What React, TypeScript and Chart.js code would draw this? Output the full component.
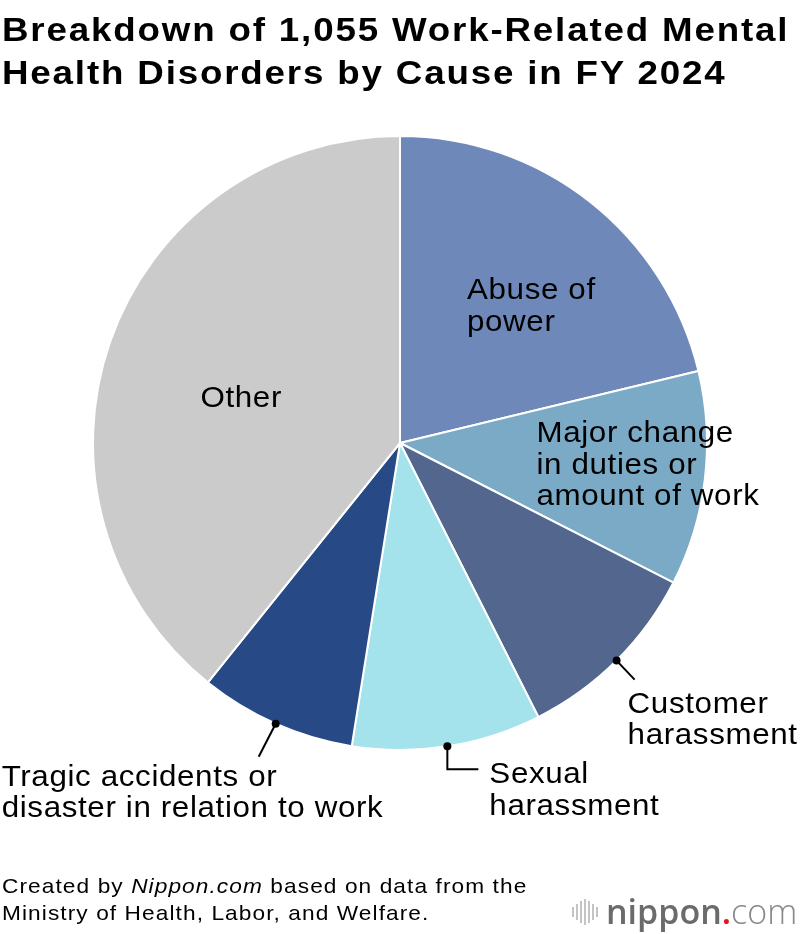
import { useEffect, useRef } from "react";
import { Chart, PieController, ArcElement } from "chart.js";

Chart.register(PieController, ArcElement);

// FY 2024, recognised work-related mental disorder cases by cause (total 1,055)
const causes = [
  "Abuse of power",
  "Major change in duties or amount of work",
  "Customer harassment",
  "Sexual harassment",
  "Tragic accidents or disaster in relation to work",
  "Other",
];
const cases = [224, 119, 106, 105, 87, 414];
const labelLines = [
  ["Abuse of", "power"],
  ["Major change", "in duties or", "amount of work"],
  ["Customer", "harassment"],
  ["Sexual", "harassment"],
  ["Tragic accidents or", "disaster in relation to work"],
  ["Other"],
];

const sliceColors = ["#6e88b9", "#7aaac6", "#52668e", "#a4e2ec", "#274a86", "#cbcbcb"];

// how each label sits next to its slice (offsets from the slice anchor)
type Place =
  | { kind: "inside"; dx: number; dy: number; align: CanvasTextAlign }
  | { kind: "leader"; path: [number, number][]; tx: number; ty: number };

const placements: Place[] = [
  { kind: "inside", dx: -28, dy: -23, align: "left" },
  { kind: "inside", dx: -16, dy: -19, align: "left" },
  { kind: "leader", path: [[18, 19]], tx: 11, ty: 52 },
  { kind: "leader", path: [[0, 23], [31, 23]], tx: 42, ty: 37 },
  { kind: "leader", path: [[-17, 33]], tx: -274, ty: 62 },
  { kind: "inside", dx: -14, dy: 15, align: "center" },
];

const LINE_H = 31.5;
const WIDEN = 1.045;

const sliceLabels = {
  id: "sliceLabels",
  afterDatasetsDraw(chart: Chart) {
    const ctx = chart.ctx;
    const meta = chart.getDatasetMeta(0);
    const text = (s: string, tx: number, ty: number) => {
      ctx.save();
      ctx.translate(tx, ty);
      ctx.scale(WIDEN, 1);
      ctx.fillText(s, 0, 0);
      ctx.restore();
    };
    ctx.save();
    ctx.font = '30px "Liberation Sans", Arial, sans-serif';
    (ctx as any).letterSpacing = "0.6px";
    ctx.fillStyle = "#000";
    ctx.strokeStyle = "#000";
    ctx.lineWidth = 2;
    ctx.textBaseline = "alphabetic";
    meta.data.forEach((el, i) => {
      const arc = el as any;
      const p = placements[i];
      const lines = labelLines[i];
      const { x, y, startAngle, endAngle, outerRadius } = arc.getProps(
        ["x", "y", "startAngle", "endAngle", "outerRadius"],
        true
      );
      if (p.kind === "inside") {
        const tp = arc.tooltipPosition(true);
        ctx.textAlign = p.align;
        lines.forEach((s, k) => text(s, tp.x + p.dx, tp.y + p.dy + k * LINE_H));
      } else {
        const mid = (startAngle + endAngle) / 2;
        const ax = x + Math.cos(mid) * outerRadius;
        const ay = y + Math.sin(mid) * outerRadius;
        ctx.beginPath();
        ctx.arc(ax, ay, 4, 0, Math.PI * 2);
        ctx.fill();
        ctx.beginPath();
        ctx.moveTo(ax, ay);
        p.path.forEach(([dx, dy]) => ctx.lineTo(ax + dx, ay + dy));
        ctx.stroke();
        ctx.textAlign = "left";
        lines.forEach((s, k) => text(s, ax + p.tx, ay + p.ty + k * LINE_H));
      }
    });
    ctx.restore();
  },
};

function CausePie() {
  const canvasRef = useRef<HTMLCanvasElement>(null);
  const chartRef = useRef<Chart | null>(null);

  useEffect(() => {
    if (!canvasRef.current) return;
    chartRef.current?.destroy();
    chartRef.current = new Chart(canvasRef.current, {
      type: "pie",
      data: {
        labels: causes,
        datasets: [
          {
            data: cases,
            backgroundColor: sliceColors,
            borderColor: "#ffffff",
            borderWidth: 2,
          },
        ],
      },
      options: {
        responsive: true,
        maintainAspectRatio: false,
        animation: false,
        layout: { padding: { left: 92, right: 92, top: 134, bottom: 182 } },
        plugins: { legend: { display: false }, tooltip: { enabled: false } },
      },
      plugins: [sliceLabels],
    });
    return () => { chartRef.current?.destroy(); };
  }, []);

  return (
    <div style={{ position: "absolute", left: 0, top: 0, width: 800, height: 934 }}>
      <canvas ref={canvasRef} />
    </div>
  );
}

const barHeights = [10, 16, 22, 26, 22, 16, 10];

export default function App() {
  useEffect(() => {
    document.body.style.margin = "0";
  }, []);

  const font = '"Liberation Sans", Arial, sans-serif';
  return (
    <div style={{ position: "relative", width: 800, height: 934, background: "#fff", overflow: "hidden", fontFamily: font }}>
      <CausePie />
      <div
        style={{
          position: "absolute",
          left: 2,
          top: 8,
          fontWeight: 700,
          fontSize: 34,
          lineHeight: "43px",
          letterSpacing: "1.7px",
          color: "#000",
          whiteSpace: "nowrap",
          transform: "scaleX(1.08)",
          transformOrigin: "left top",
        }}
      >
        Breakdown of 1,055 Work-Related Mental
        <br />
        Health Disorders by Cause in FY 2024
      </div>
      <div
        style={{
          position: "absolute",
          left: 2,
          top: 872,
          fontSize: 21,
          lineHeight: "27px",
          letterSpacing: "1px",
          color: "#000",
          whiteSpace: "nowrap",
          transform: "scaleX(1.08)",
          transformOrigin: "left top",
        }}
      >
        Created by <i>Nippon.com</i> based on data from the
        <br />
        Ministry of Health, Labor, and Welfare.
      </div>
      <div style={{ position: "absolute", left: 572, top: 894, height: 36, display: "flex", alignItems: "center", gap: 2 }}>
        {barHeights.map((h, i) => (
          <div key={i} style={{ width: 2, height: h, background: "#c4c4c4" }} />
        ))}
      </div>
      <div
        style={{
          position: "absolute",
          left: 606,
          top: 891,
          fontFamily: '"Open Sans", sans-serif',
          fontSize: 34,
          lineHeight: "40px",
          whiteSpace: "nowrap",
          color: "#6b6b6b",
        }}
      >
        <span style={{ fontWeight: 600 }}>nippon</span>
        <span style={{ color: "#e8141e", fontWeight: 600 }}>.</span>
        <span style={{ fontWeight: 300, color: "#888" }}>com</span>
      </div>
    </div>
  );
}
